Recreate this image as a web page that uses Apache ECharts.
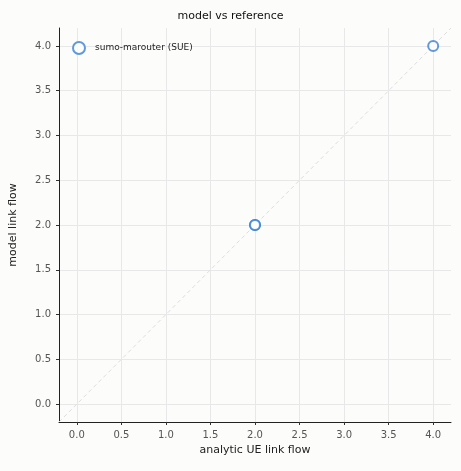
<!DOCTYPE html>
<html><head><meta charset="utf-8">
<script src="https://cdn.jsdelivr.net/npm/echarts@6/dist/echarts.min.js"></script>
<style>html,body{margin:0;padding:0;background:#fcfcfa}#c{width:461px;height:471px}</style>
</head><body><div id="c"></div>
<script>
var refFlow = [2.0, 2.0, 4.0];
var modelFlow = [2.0, 2.0, 4.0];
var diagonal = [-0.2, 4.2];
var ticks = [0, 0.5, 1, 1.5, 2, 2.5, 3, 3.5, 4];

var chart = echarts.init(document.getElementById('c'));
var pts = refFlow.map(function (v, i) { return [v, modelFlow[i]]; });
var axisCommon = {
  type: 'value',
  min: -0.2, max: 4.2,
  axisLine: { show: true, onZero: false, lineStyle: { color: '#222', width: 1 } },
  axisTick: { show: true, customValues: ticks, length: 3, lineStyle: { color: '#333' } },
  splitLine: { show: false },
  axisLabel: {
    color: '#555', fontSize: 10, fontFamily: 'DejaVu Sans',
    customValues: ticks,
    formatter: function (v) { return v.toFixed(1); }
  },
  nameLocation: 'middle',
  nameTextStyle: { color: '#222', fontSize: 11, fontFamily: 'DejaVu Sans' }
};
var grids = ticks.map(function (t) { return { xAxis: t }; })
  .concat(ticks.map(function (t) { return { yAxis: t }; }));

chart.setOption({
  backgroundColor: '#fcfcfa',
  animation: false,
  title: { text: 'model vs reference', left: 'center', top: 6,
    textStyle: { fontSize: 11, fontWeight: 'normal', color: '#111', fontFamily: 'DejaVu Sans' } },
  legend: { left: 67, top: 36, itemWidth: 14, itemHeight: 12, itemGap: 10,
    textStyle: { fontSize: 9, color: '#222', fontFamily: 'DejaVu Sans', padding: [0, 0, 0, 4] },
    data: [{ name: 'sumo-marouter (SUE)', icon: 'circle' }] },
  grid: { left: 56, right: 10, top: 28, bottom: 49 },
  xAxis: Object.assign({}, axisCommon, { name: 'analytic UE link flow', nameGap: 22 }),
  yAxis: Object.assign({}, axisCommon, { name: 'model link flow', nameGap: 40 }),
  series: [
    { type: 'line', data: [], silent: true, symbol: 'none', z: 0,
      markLine: { silent: true, symbol: 'none', label: { show: false }, z: 0,
        lineStyle: { color: '#e8e8e8', width: 1, type: 'solid' }, data: grids } },
    { type: 'line', data: [[diagonal[0], diagonal[0]], [diagonal[1], diagonal[1]]], symbol: 'none',
      silent: true, z: 1, lineStyle: { color: '#ddd', width: 1, type: [4, 3] } },
    { name: 'sumo-marouter (SUE)', type: 'scatter', data: pts, symbol: 'circle', symbolSize: 10, z: 5,
      itemStyle: { color: '#fcfcfa', borderColor: '#3a7fd5', borderWidth: 2 } }
  ]
});
</script></body></html>
